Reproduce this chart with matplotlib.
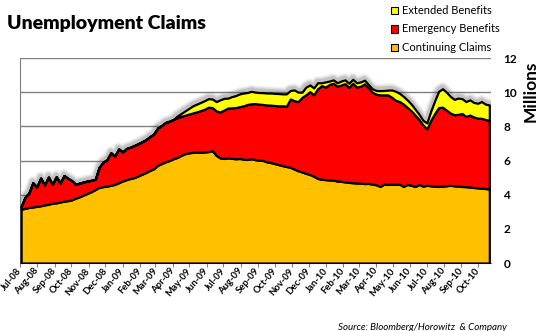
import matplotlib
matplotlib.use("Agg")
import matplotlib.pyplot as plt
import matplotlib.dates as mdates
from matplotlib.patches import Rectangle
import numpy as np
import pandas as pd

# weekly claims, millions of people
weeks = pd.date_range("2008-07-03", periods=121, freq="7D")

continuing = [
    3.15, 3.20, 3.25, 3.28, 3.32, 3.35, 3.40, 3.44, 3.50, 3.52,
    3.57, 3.62, 3.65, 3.70, 3.80, 3.88, 3.98, 4.08, 4.18, 4.30,
    4.43, 4.47, 4.50, 4.55, 4.60, 4.70, 4.80, 4.88, 4.95, 5.00,
    5.10, 5.20, 5.30, 5.42, 5.52, 5.72, 5.82, 5.92, 6.00, 6.10,
    6.18, 6.30, 6.40, 6.45, 6.48, 6.50, 6.48, 6.50, 6.52, 6.58,
    6.30, 6.15, 6.12, 6.15, 6.13, 6.10, 6.12, 6.08, 6.06, 6.10,
    6.05, 6.02, 6.00, 5.92, 5.88, 5.82, 5.76, 5.70, 5.65, 5.60,
    5.50, 5.40, 5.33, 5.25, 5.18, 5.08, 4.95, 4.90, 4.88, 4.86,
    4.85, 4.80, 4.78, 4.75, 4.72, 4.70, 4.68, 4.68, 4.65, 4.66,
    4.62, 4.58, 4.48, 4.62, 4.60, 4.62, 4.60, 4.62, 4.48, 4.60,
    4.55, 4.48, 4.60, 4.50, 4.55, 4.52, 4.50, 4.48, 4.50, 4.52,
    4.55, 4.52, 4.50, 4.48, 4.47, 4.45, 4.42, 4.40, 4.38, 4.36,
    4.33,
]

emergency = [
    0.15, 0.65, 0.85, 1.42, 1.13, 1.62, 1.17, 1.59, 1.10, 1.53,
    1.11, 1.50, 1.30, 1.12, 0.80, 0.80, 0.76, 0.72, 0.66, 0.60,
    1.17, 1.43, 1.55, 1.90, 1.65, 1.98, 1.70, 1.82, 1.83, 1.88,
    1.88, 1.90, 1.92, 1.98, 2.03, 2.18, 2.23, 2.30, 2.30, 2.30,
    2.32, 2.28, 2.25, 2.27, 2.30, 2.35, 2.44, 2.50, 2.60, 2.52,
    2.60, 2.69, 2.83, 2.92, 2.95, 3.00, 3.03, 3.12, 3.22, 3.22,
    3.28, 3.28, 3.28, 3.33, 3.36, 3.40, 3.44, 3.50, 3.53, 4.00,
    4.00, 4.05, 4.37, 4.60, 4.85, 4.77, 5.25, 5.48, 5.42, 5.59,
    5.67, 5.55, 5.64, 5.75, 5.56, 5.82, 5.62, 5.67, 5.83, 5.59,
    5.38, 5.30, 5.36, 5.22, 5.24, 5.08, 4.92, 4.83, 4.82, 4.50,
    4.35, 4.17, 3.80, 3.58, 3.30, 3.83, 4.25, 4.62, 4.62, 4.43,
    4.23, 4.16, 4.20, 4.27, 4.11, 4.21, 4.13, 4.08, 4.09, 4.04,
    4.02,
]

# nothing paid out under extended benefits until spring 2009
extended = [0.0] * 40 + [
    0.10, 0.17, 0.25, 0.33, 0.42, 0.45, 0.48, 0.50, 0.50, 0.50,
    0.55, 0.71, 0.69, 0.58, 0.66, 0.70, 0.75, 0.75, 0.70, 0.73,
    0.67, 0.68, 0.69, 0.70, 0.71, 0.71, 0.72, 0.70, 0.72, 0.50,
    0.63, 0.55, 0.30, 0.45, 0.39, 0.40, 0.35, 0.17, 0.30, 0.20,
    0.20, 0.20, 0.23, 0.22, 0.24, 0.23, 0.25, 0.25, 0.22, 0.20,
    0.20, 0.22, 0.25, 0.26, 0.28, 0.43, 0.53, 0.48, 0.45, 0.44,
    0.40, 0.35, 0.30, 0.27, 0.35, 0.55, 0.75, 0.95, 1.08, 1.05,
    0.97, 0.90, 0.95, 0.87, 0.87, 0.89, 0.85, 0.87, 0.98, 0.90,
    0.90,
]

labels = ["Continuing Claims", "Emergency Benefits", "Extended Benefits"]
colors = ["#FFC000", "#FF0000", "#FFFF00"]
y_ticks = [0, 2, 4, 6, 8, 10, 12]

FONT = "Lato"

fig = plt.figure(figsize=(5.42, 3.31), dpi=100)
ax = fig.add_axes([20 / 542, 68 / 331, 471 / 542, 205 / 331])

top = np.array(continuing) + np.array(emergency) + np.array(extended)

# soft drop shadow along the top edge
for lw, a in [(8, 0.07), (6, 0.11), (4, 0.18)]:
    ax.plot(weeks, top + 0.07, color="#444444", lw=lw, alpha=a,
            solid_joinstyle="round", zorder=2)

bands = ax.stackplot(weeks, continuing, emergency, extended, colors=colors,
                     edgecolor="black", linewidth=1.6, zorder=3)
for b in bands:
    b.set_joinstyle("round")

ax.set_ylim(0, 12)
ax.set_xlim(pd.Timestamp("2008-07-01"), pd.Timestamp("2010-10-24"))

ax.set_yticks(y_ticks)
ax.yaxis.tick_right()
ax.tick_params(axis="y", length=0, pad=9, labelsize=8.5)
for t in ax.get_yticklabels():
    t.set_fontweight("bold")
    t.set_family(FONT)

ax.xaxis.set_major_locator(mdates.MonthLocator())
ax.xaxis.set_major_formatter(mdates.DateFormatter("%b-%y"))
ax.tick_params(axis="x", length=3, color="#808080", pad=1.5, labelsize=6.8)
for t in ax.get_xticklabels():
    t.set_rotation(50)
    t.set_ha("right")
    t.set_va("center")
    t.set_rotation_mode("anchor")
    t.set_fontweight("bold")
    t.set_family(FONT)

ax.grid(axis="y", color="#808080", linewidth=1.0, zorder=1)
ax.set_axisbelow(True)
for side in ["top", "right"]:
    ax.spines[side].set_visible(False)
for side in ["left", "bottom"]:
    ax.spines[side].set_color("#808080")

fig.text(7 / 542, 1 - 24 / 331, "Unemployment Claims", fontsize=14,
         fontweight="heavy", family=FONT, va="center", ha="left")
fig.text(531 / 542, 1 - 91 / 331, "Millions", fontsize=12.5, fontweight="bold",
         family=FONT, rotation=90, va="center", ha="center")

# legend drawn by hand, newest programme on top
for i, (lab, col) in enumerate(zip(labels[::-1], colors[::-1])):
    yc = 10.5 + i * 18.5
    fig.add_artist(Rectangle((391 / 542, 1 - (yc + 3.5) / 331), 7 / 542, 7 / 331,
                             transform=fig.transFigure, facecolor=col,
                             edgecolor="black", linewidth=0.8))
    fig.text(402 / 542, 1 - yc / 331, lab, fontsize=8, family=FONT,
             va="center", ha="left")

fig.text(507 / 542, 1 - 327 / 331, "Source: Bloomberg/Horowitz  & Company",
         fontsize=7, style="italic", family=FONT, va="center", ha="right")

fig.savefig("out.png", dpi=100)
